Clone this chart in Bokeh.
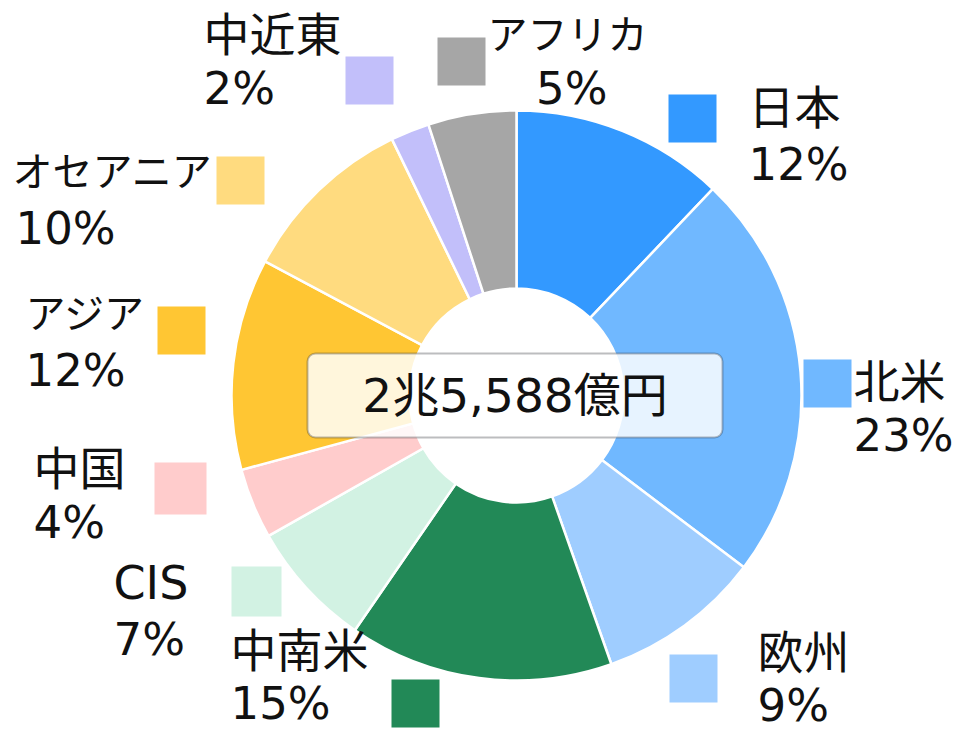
import math
from bokeh.plotting import figure
from bokeh.models import Range1d, BoxAnnotation, ColumnDataSource, Label
from bokeh.core.properties import value
from bokeh.embed import file_html
from bokeh.resources import INLINE

# ---- data ----
regions = ["日本", "北米", "欧州", "中南米", "CIS", "中国", "アジア", "オセアニア", "中近東", "アフリカ"]
shares = [12.1, 23.2, 9.3, 15.0, 7.2, 4.0, 12.0, 10.0, 2.2, 5.0]
pct_labels = ["12%", "23%", "9%", "15%", "7%", "4%", "12%", "10%", "2%", "5%"]
colors = ["#3399FF", "#70B8FF", "#9FCDFF", "#228957", "#D2F2E3",
          "#FFCCCC", "#FFC633", "#FFDB7F", "#C2BFFA", "#A6A6A6"]
total_label = "2兆5,588億円"

# ---- layout (picture pixel positions, origin top-left) ----
W, H = 955, 731
PAGE_H = 747
cx, cy = 516, 395
r_out, r_in = 285, 107

name_x = [748, 853, 757, 230, 113, 33, 25, 12, 203, 487]
name_align = ["left"] * 10
name_y = [107, 381, 652, 650, 582, 468, 313, 171, 34, 34]
name_size = ["46px", "46px", "46px", "46px", "46px", "46px", "40px", "40px", "46px", "40px"]
pct_x = [748, 853, 757, 230, 113, 33, 25, 15, 203, 607]
pct_align = ["left"] * 9 + ["right"]
pct_y = [164, 435, 705, 703, 639, 522, 370, 228, 88, 88]
sq_x = [692, 827, 693, 415, 256, 180, 181, 240, 369, 461]
sq_y = [118, 383, 678, 703, 591, 488, 330, 180, 80, 61]
sq_size = [48, 48, 48, 48, 50, 52, 48, 48, 48, 48]

FONT_NAME = "DejaVu Sans, Noto Sans CJK JP"
FONT = value(FONT_NAME)

def fy(py):
    return PAGE_H - py

p = figure(width=W, height=H, x_range=Range1d(0, W), y_range=Range1d(PAGE_H - H, PAGE_H),
           output_backend="svg", toolbar_location=None, min_border=0)
p.axis.visible = False
p.grid.visible = False
p.outline_line_color = None
p.background_fill_color = "white"
p.border_fill_color = "white"

total = sum(shares)
starts, ends = [], []
acc = 0.0
for s in shares:
    starts.append(math.pi / 2 - 2 * math.pi * acc / total)
    acc += s
    ends.append(math.pi / 2 - 2 * math.pi * acc / total)

src = ColumnDataSource(dict(start=starts, end=ends, color=colors, region=regions))
p.annular_wedge(x=cx, y=fy(cy), inner_radius=r_in, outer_radius=r_out,
                start_angle="start", end_angle="end", direction="clock",
                fill_color="color", line_color="white", line_width=2.5, source=src)

# legend squares
p.rect(x=sq_x, y=[fy(v) for v in sq_y], width=sq_size, height=sq_size,
       fill_color=colors, line_color=None)

def draw_texts(xs, ys, texts, aligns, sizes):
    for align in ("left", "right"):
        idx = [i for i, a in enumerate(aligns) if a == align]
        if not idx:
            continue
        s = ColumnDataSource(dict(x=[xs[i] for i in idx], y=[fy(ys[i]) for i in idx],
                                  t=[texts[i] for i in idx], fs=[sizes[i] for i in idx]))
        p.text(x="x", y="y", text="t", text_font_size="fs", source=s,
               text_align=align, text_baseline="middle", text_font=FONT,
               text_color="#111111")

draw_texts(name_x, name_y, regions, name_align, name_size)
draw_texts(pct_x, pct_y, pct_labels, pct_align, ["45px"] * 10)

# centre box with total
box = BoxAnnotation(left=307, right=722, top=fy(353), bottom=fy(437),
                    fill_color="white", fill_alpha=0.83, line_color="#22262b",
                    line_width=2, border_radius=8)
p.add_layout(box)
p.add_layout(Label(x=514.5, y=fy(395), text=total_label, text_align="center",
                   text_baseline="middle", text_font=FONT_NAME, text_font_size="47px",
                   text_color="#111111"))

open("out.html", "w").write(file_html(p, INLINE))
